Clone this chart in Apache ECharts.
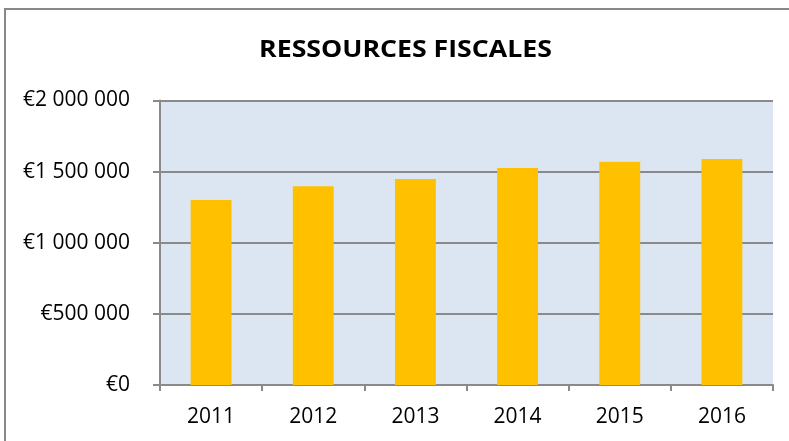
<!DOCTYPE html>
<html>
<head>
<meta charset="utf-8">
<script src="https://cdn.jsdelivr.net/npm/echarts@6/dist/echarts.min.js"></script>
<style>
html,body{margin:0;padding:0;background:#fff;}
#chart{width:789px;height:441px;}
</style>
</head>
<body>
<div id="chart"></div>
<script>
var titleText = "RESSOURCES FISCALES";
var years = ["2011", "2012", "2013", "2014", "2015", "2016"];
var ressources = [1300000, 1397000, 1448000, 1525000, 1570000, 1589000];
var yMin = 0, yMax = 2000000, yStep = 500000;

function fmt(v) {
  var s = String(Math.round(v));
  return "\u20AC" + s.replace(/\B(?=(\d{3})+(?!\d))/g, " ");
}

var chart = echarts.init(document.getElementById('chart'), null, {renderer: 'canvas'});
var font = "'Open Sans', 'DejaVu Sans', sans-serif";
chart.setOption({
  animation: false,
  backgroundColor: '#ffffff',
  graphic: [{
    type: 'rect',
    shape: {x: 5, y: 9, width: 800, height: 460},
    style: {fill: 'none', stroke: '#888888', lineWidth: 2},
    silent: true
  }, {
    type: 'text',
    x: 405.5, y: 50.5,
    scaleX: 1.16,
    style: {
      text: titleText,
      fontFamily: font, fontWeight: 'bold', fontSize: 23, fill: '#000',
      textAlign: 'center', textVerticalAlign: 'middle'
    },
    silent: true
  }],
  grid: {
    left: 160, right: 16, top: 100.5, bottom: 56,
    show: true, backgroundColor: '#DCE6F2', borderWidth: 0
  },
  xAxis: {
    type: 'category',
    data: years,
    boundaryGap: true,
    axisLine: {show: true, lineStyle: {color: '#8a8a8a', width: 2}},
    axisTick: {show: true, alignWithLabel: false, length: 6, lineStyle: {color: '#8a8a8a', width: 2}},
    axisLabel: {margin: 22, fontFamily: font, fontSize: 21, color: '#000'},
    splitLine: {show: false}
  },
  yAxis: {
    type: 'value',
    min: yMin, max: yMax, interval: yStep,
    axisLine: {show: true, lineStyle: {color: '#8a8a8a', width: 2}},
    axisTick: {show: true, length: 7, lineStyle: {color: '#8a8a8a', width: 2}},
    axisLabel: {margin: 30, fontFamily: font, fontSize: 21, color: '#000', formatter: fmt},
    splitLine: {show: true, lineStyle: {color: '#8a8a8a', width: 2}}
  },
  series: [{
    type: 'bar',
    data: ressources,
    barWidth: '40%',
    itemStyle: {color: '#FFC000'}
  }]
});
</script>
</body>
</html>
